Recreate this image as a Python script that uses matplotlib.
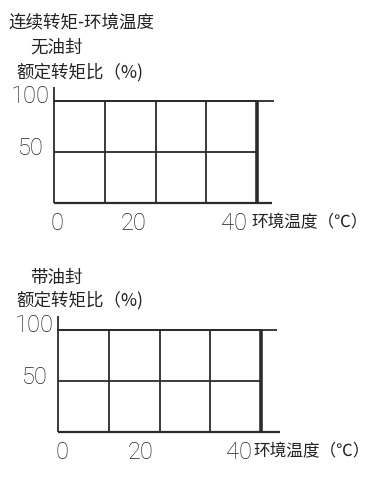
import matplotlib
matplotlib.use("Agg")
import matplotlib.pyplot as plt

plt.rcParams['font.family'] = ['Noto Sans CJK SC', 'DejaVu Sans']

# ---- data ----
title = "连续转矩-环境温度"
panel_names = ["无油封", "带油封"]
y_label = "额定转矩比（%)"
x_label = "环境温度（℃）"
grid_temps = [0, 10, 20, 30, 40]          # vertical grid lines (°C scale)
grid_levels = [0, 50, 100]                # horizontal grid lines (%)
curve_temp = [0, 40, 40]                  # continuous torque curve
curve_torque = [100, 100, 0]
ytick_values = [100, 50]
ytick_labels = ["100", "50"]
xtick_labels = ["0", "20", "40"]
xtick_pos_top = [0.6, 15.6, 35.5]
xtick_pos_bot = [0.8, 16.2, 35.7]

W, H = 369, 483
fig = plt.figure(figsize=(W / 100, H / 100), dpi=100)

PXX = 5.075   # px per °C
PXY = 1.02    # px per %
XMIN, XMAX = -8, 61.5
YMIN, YMAX = -40, 160

num_font = ['Roboto', 'DejaVu Sans']
ink = '#2b2b2b'
txt = '#222222'


def make_panel(x0px, y0px, xtick_pos, xlab_x, top_ext, bot_ext, ytop):
    left = x0px + XMIN * PXX
    bottom_px = y0px - YMIN * PXY
    w = (XMAX - XMIN) * PXX
    h = (YMAX - YMIN) * PXY
    ax = fig.add_axes([left / W, 1 - bottom_px / H, w / W, h / H])
    ax.set_xlim(XMIN, XMAX)
    ax.set_ylim(YMIN, YMAX)
    ax.axis('off')
    lw = 1.3
    ax.hlines(grid_levels[2], grid_temps[0], top_ext, color=ink, lw=lw)
    ax.hlines(grid_levels[1], grid_temps[0], grid_temps[-1], color=ink, lw=lw)
    ax.hlines(grid_levels[0], grid_temps[0], bot_ext, color=ink, lw=1.6)
    ax.vlines(grid_temps[0], grid_levels[0], ytop, color=ink, lw=lw)
    ax.vlines(grid_temps[1:-1], grid_levels[0], grid_levels[-1], color=ink, lw=lw)
    ax.plot(curve_temp[1:], curve_torque[1:], color=ink, lw=2.6, solid_capstyle='butt')
    ax.plot(curve_temp[:2], curve_torque[:2], color=ink, lw=lw)
    ax.text(-0.9, ytick_values[0] + 4, ytick_labels[0], ha='right', va='center',
            fontsize=17, family=num_font, fontweight='light', color=txt)
    ax.text(-2.0, ytick_values[1] + 3, ytick_labels[1], ha='right', va='center',
            fontsize=17, family=num_font, fontweight='light', color=txt)
    for p, lab in zip(xtick_pos, xtick_labels):
        ax.text(p, -20.5, lab, ha='center', va='center', fontsize=17,
                family=num_font, fontweight='light', color=txt)
    ax.text(xlab_x, -19.5, x_label, ha='left', va='center',
            fontsize=12.0, color=txt)
    return ax


ax1 = make_panel(54, 203, xtick_pos_top, 38.9, 43.4, 43.0, 114)
ax2 = make_panel(58, 432, xtick_pos_bot, 38.6, 43.2, 43.7, 113.7)

fig.text(8 / W, 1 - 22 / H, title, ha='left', va='center', fontsize=12.6, color=txt)
fig.text(30 / W, 1 - 48 / H, panel_names[0], ha='left', va='center', fontsize=12.6, color=txt)
fig.text(16 / W, 1 - 72 / H, y_label, ha='left', va='center', fontsize=12.6, color=txt)
fig.text(30 / W, 1 - 278 / H, panel_names[1], ha='left', va='center', fontsize=12.6, color=txt)
fig.text(16 / W, 1 - 300 / H, y_label, ha='left', va='center', fontsize=12.6, color=txt)

fig.savefig("out.png", dpi=100, facecolor='white')
